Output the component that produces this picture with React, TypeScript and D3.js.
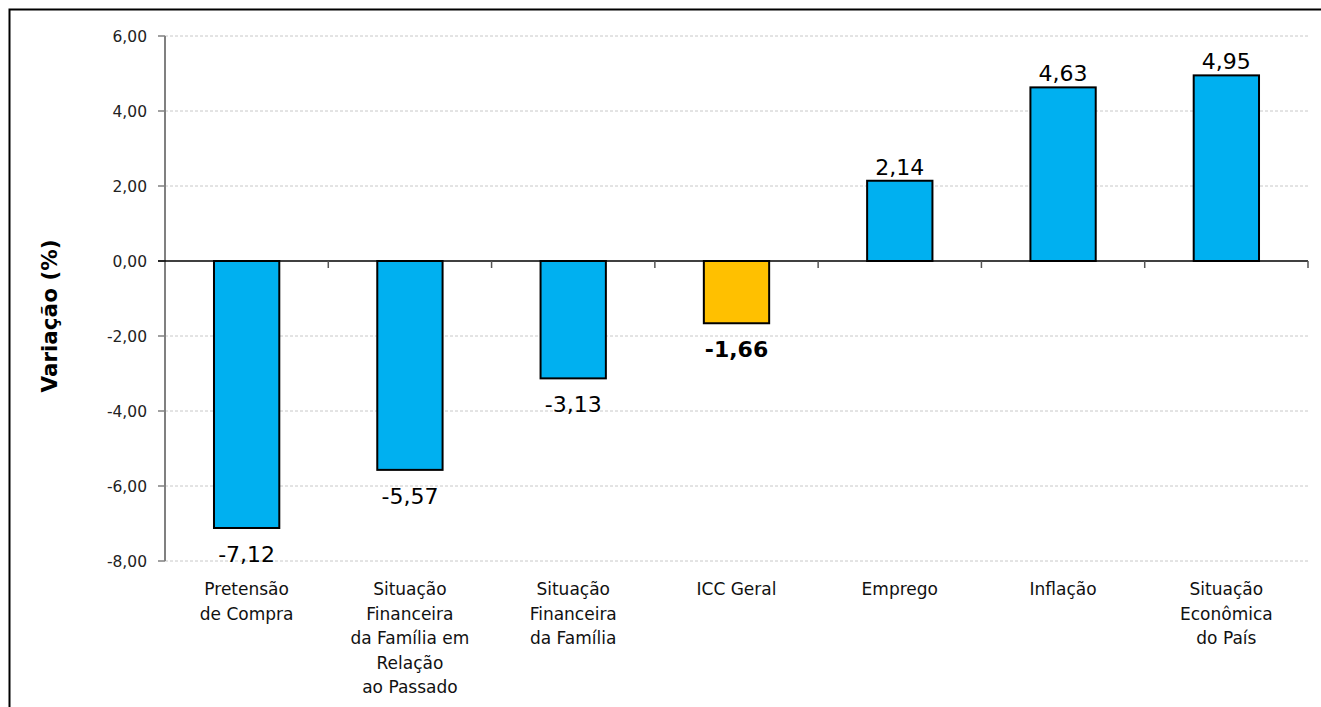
import React from 'react';
import * as d3 from 'd3';

// Chart data
const categories = [
  ['Pretensão', 'de Compra'],
  ['Situação', 'Financeira', 'da Família em', 'Relação', 'ao Passado'],
  ['Situação', 'Financeira', 'da Família'],
  ['ICC Geral'],
  ['Emprego'],
  ['Inflação'],
  ['Situação', 'Econômica', 'do País'],
];
const values = [-7.12, -5.57, -3.13, -1.66, 2.14, 4.63, 4.95];
const highlightIndex = 3; // ICC Geral
const yTicks = [6, 4, 2, 0, -2, -4, -6, -8];

const WIDTH = 1321;
const HEIGHT = 707;
const BAR_COLOR = '#00B0F0';
const HIGHLIGHT_COLOR = '#FFC000';
const FONT = '"DejaVu Sans", Verdana, sans-serif';

const fmt = (v: number) => v.toFixed(2).replace('.', ',');

export default function App() {
  const left = 165;
  const right = 1308;

  const y = d3.scaleLinear().domain([-8, 6]).range([561, 36]);
  const x = d3.scaleBand<number>()
    .domain(d3.range(categories.length))
    .range([left, right])
    .paddingInner(0.6)
    .paddingOuter(0.3);
  const step = x.step();
  const bandStart = (i: number) => left + i * (right - left) / categories.length;

  return (
    <svg
      width={WIDTH}
      height={HEIGHT}
      style={{ position: 'absolute', left: 0, top: 0, background: '#fff' }}
      fontFamily={FONT}
    >
      {/* outer frame */}
      <rect x={9.5} y={9.5} width={WIDTH + 20} height={HEIGHT + 20} fill="none" stroke="#000" strokeWidth={2} />

      {/* gridlines */}
      {yTicks.filter(t => t !== 0).map(t => (
        <line key={t} x1={left} x2={right} y1={y(t)} y2={y(t)}
          stroke="#c8c8c8" strokeWidth={1} strokeDasharray="3,2" />
      ))}

      {/* y axis */}
      <line x1={left} x2={left} y1={y(6)} y2={y(-8)} stroke="#808080" strokeWidth={2} />
      {yTicks.map(t => (
        <g key={t}>
          <line x1={left - 7} x2={left} y1={y(t)} y2={y(t)} stroke="#808080" strokeWidth={1.5} />
          <text x={left - 18} y={y(t)} dy="0.36em" textAnchor="end" fontSize={15.5} fill="#222">
            {fmt(t)}
          </text>
        </g>
      ))}

      {/* bars */}
      {values.map((v, i) => (
        <rect key={i}
          x={x(i)!}
          y={Math.min(y(v), y(0))}
          width={x.bandwidth()}
          height={Math.abs(y(v) - y(0))}
          fill={i === highlightIndex ? HIGHLIGHT_COLOR : BAR_COLOR}
          stroke="#000" strokeWidth={2} />
      ))}

      {/* zero line and category ticks */}
      <line x1={left - 7} x2={right} y1={y(0)} y2={y(0)} stroke="#000" strokeWidth={1.5} />
      {d3.range(1, categories.length + 1).map(i => (
        <line key={i} x1={bandStart(i)} x2={bandStart(i)} y1={y(0)} y2={y(0) + 7}
          stroke="#555" strokeWidth={1.5} />
      ))}

      {/* value labels */}
      {values.map((v, i) => (
        <text key={i}
          x={x(i)! + x.bandwidth() / 2}
          y={v >= 0 ? y(v) - 6 : y(v) + 34}
          textAnchor="middle"
          fontSize={22}
          fontWeight={i === highlightIndex ? 'bold' : 'normal'}
          fill="#000">
          {fmt(v)}
        </text>
      ))}

      {/* category labels */}
      {categories.map((lines, i) => (
        <text key={i} x={bandStart(i) + step / 2} y={595} textAnchor="middle" fontSize={17} fill="#111">
          {lines.map((ln, j) => (
            <tspan key={j} x={bandStart(i) + step / 2} dy={j === 0 ? 0 : 24.5}>{ln}</tspan>
          ))}
        </text>
      ))}

      {/* y axis title */}
      <text transform="translate(57,316) rotate(-90)" textAnchor="middle" fontSize={21.5} fontWeight="bold" fill="#000">
        Variação (%)
      </text>
    </svg>
  );
}
